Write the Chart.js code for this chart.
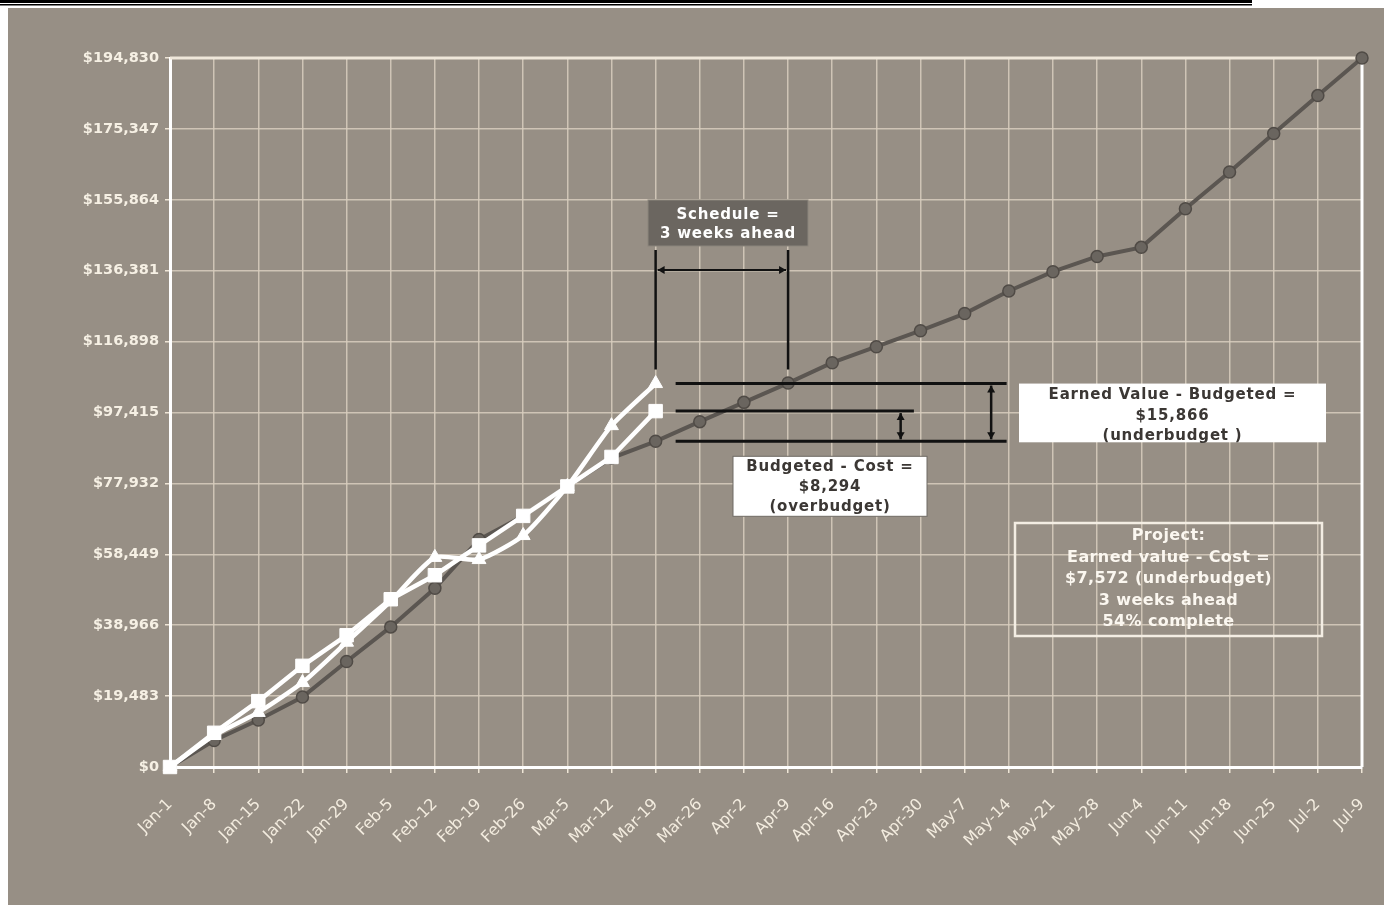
<!DOCTYPE html>
<html>
<head>
<meta charset="utf-8">
<title>Earned value</title>
<script src="https://cdn.jsdelivr.net/npm/chart.js@4.4.0/dist/chart.umd.min.js"></script>
<style>
  html, body { margin: 0; padding: 0; background: #fff; }
  #wrap { position: relative; width: 1390px; height: 907px; }
</style>
</head>
<body>
<div id="wrap"><canvas id="ev" width="1390" height="907"></canvas></div>
<script>
// weekly status dates
const weeks = ['Jan-1', 'Jan-8', 'Jan-15', 'Jan-22', 'Jan-29', 'Feb-5', 'Feb-12', 'Feb-19', 'Feb-26',
  'Mar-5', 'Mar-12', 'Mar-19', 'Mar-26', 'Apr-2', 'Apr-9', 'Apr-16', 'Apr-23', 'Apr-30', 'May-7',
  'May-14', 'May-21', 'May-28', 'Jun-4', 'Jun-11', 'Jun-18', 'Jun-25', 'Jul-2', 'Jul-9'];

// cumulative planned spend (budget) for the whole project
const budgeted = [0, 7300, 12900, 19250, 29000, 38500, 49100, 62500, 69000, 77100, 84900, 89500,
  94900, 100200, 105500, 111100, 115500, 119900, 124600, 130800, 136100, 140300, 142800, 153400,
  163500, 174100, 184500, 194830];

// progress so far (up to Mar-19)
const earned = [0, 8700, 15000, 23200, 34300, 45600, 57600, 57000, 63600, 77100, 93800, 105366];
const cost = [0, 9400, 18100, 27800, 36200, 46100, 52700, 60900, 69000, 77100, 85200, 97794];

const yTicks = [0, 19483, 38966, 58449, 77932, 97415, 116898, 136381, 155864, 175347, 194830];

const now = earned.length - 1;          // status date index
const scheduleMatch = 14;               // week where plan reaches today's earned value

const money = v => '$' + Math.round(v).toLocaleString('en-US');
const font = (size, bold) => (bold ? 'bold ' : '') + size + 'px "DejaVu Sans", Verdana, sans-serif';

const backdrop = {
  id: 'backdrop',
  beforeDraw(chart) {
    const ctx = chart.ctx;
    ctx.save();
    ctx.fillStyle = '#fff';
    ctx.fillRect(0, 0, chart.width, chart.height);
    ctx.fillStyle = '#000';
    ctx.fillRect(0, 0, 1252, 3);
    ctx.fillRect(0, 4, 1252, 1.5);
    ctx.fillStyle = '#978f85';
    ctx.fillRect(8, 8, 1376, 897);
    ctx.restore();
  },
  beforeDatasetsDraw(chart) {
    const { ctx, chartArea: a } = chart;
    ctx.save();
    ctx.lineWidth = 3;
    ctx.strokeStyle = '#efe7da';
    ctx.beginPath();
    ctx.moveTo(a.left, a.top);
    ctx.lineTo(a.right, a.top);
    ctx.stroke();
    ctx.strokeStyle = '#fff';
    ctx.beginPath();
    ctx.moveTo(a.right, a.top);
    ctx.lineTo(a.right, a.bottom);
    ctx.stroke();
    ctx.restore();
  }
};

function arrowHead(ctx, x, y, dx, dy) {
  const s = 7, w = 4;
  ctx.beginPath();
  ctx.moveTo(x, y);
  ctx.lineTo(x - dx * s - dy * w, y - dy * s - dx * w);
  ctx.lineTo(x - dx * s + dy * w, y - dy * s + dx * w);
  ctx.closePath();
  ctx.fill();
}

function doubleArrow(ctx, x1, y1, x2, y2) {
  const len = Math.hypot(x2 - x1, y2 - y1);
  const dx = (x2 - x1) / len, dy = (y2 - y1) / len;
  ctx.beginPath();
  ctx.moveTo(x1, y1);
  ctx.lineTo(x2, y2);
  ctx.stroke();
  arrowHead(ctx, x2, y2, dx, dy);
  arrowHead(ctx, x1, y1, -dx, -dy);
}

function textBox(ctx, box, lines, opts) {
  ctx.save();
  if (opts.fill) {
    ctx.fillStyle = opts.fill;
    ctx.fillRect(box.x, box.y, box.w, box.h);
  }
  if (opts.stroke) {
    ctx.strokeStyle = opts.stroke;
    ctx.lineWidth = opts.strokeWidth || 1;
    ctx.strokeRect(box.x, box.y, box.w, box.h);
  }
  ctx.fillStyle = opts.color;
  ctx.font = opts.font;
  ctx.letterSpacing = opts.spacing || '0px';
  ctx.textAlign = 'center';
  ctx.textBaseline = 'middle';
  lines.forEach((t, i) => ctx.fillText(t, box.x + box.w / 2, box.y + opts.first + i * opts.lead));
  ctx.restore();
}

const notes = {
  id: 'notes',
  afterDatasetsDraw(chart) {
    const { ctx, scales: { x, y } } = chart;
    const step = (x.right - x.left) / (weeks.length - 1);
    const xAt = i => x.left + i * step;
    const yEV = y.getPixelForValue(earned[now]);
    const yAC = y.getPixelForValue(cost[now]);
    const yPV = y.getPixelForValue(budgeted[now]);
    const xNow = xAt(now), xMatch = xAt(scheduleMatch);

    ctx.save();
    ctx.strokeStyle = '#111';
    ctx.fillStyle = '#111';
    ctx.lineWidth = 2.5;

    // schedule bracket
    const boxBottom = 246;
    ctx.beginPath();
    ctx.moveTo(xNow, boxBottom + 4); ctx.lineTo(xNow, yEV - 14);
    ctx.moveTo(xMatch, boxBottom + 4); ctx.lineTo(xMatch, yEV - 14);
    ctx.stroke();
    ctx.lineWidth = 2;
    doubleArrow(ctx, xNow + 2, boxBottom + 24, xMatch - 2, boxBottom + 24);

    // value levels at the status date
    ctx.lineWidth = 3;
    const x0 = xNow + 20;
    ctx.beginPath();
    ctx.moveTo(x0, yEV); ctx.lineTo(xAt(18.95), yEV);
    ctx.moveTo(x0, yAC); ctx.lineTo(xAt(16.85), yAC);
    ctx.moveTo(x0, yPV); ctx.lineTo(xAt(18.95), yPV);
    ctx.stroke();
    ctx.lineWidth = 2.5;
    doubleArrow(ctx, xAt(16.55), yAC + 2, xAt(16.55), yPV - 2);
    doubleArrow(ctx, xAt(18.6), yEV + 2, xAt(18.6), yPV - 2);
    ctx.restore();

    textBox(ctx, { x: 648, y: 200, w: 160, h: 46 }, ['Schedule =', (scheduleMatch - now) + ' weeks ahead'],
      { fill: '#6b6660', stroke: '#8b857d', color: '#fff', font: font(15, true), spacing: '0.8px', first: 15, lead: 19 });

    textBox(ctx, { x: 1019, y: yEV, w: 307, h: yPV - yEV + 1 },
      ['Earned Value - Budgeted =', money(earned[now] - budgeted[now]), '(underbudget )'],
      { fill: '#fff', color: '#3b3734', font: font(15, true), spacing: '0.8px', first: 12, lead: 20.5 });

    textBox(ctx, { x: 733, y: yPV + 15, w: 194, h: 60 },
      ['Budgeted - Cost =', money(cost[now] - budgeted[now]), '(overbudget)'],
      { fill: '#fff', stroke: '#6f6a64', color: '#3b3734', font: font(15, true), spacing: '0.8px', first: 11, lead: 20 });

    textBox(ctx, { x: 1015, y: 523, w: 307, h: 113 },
      ['Project:', 'Earned value - Cost =', money(earned[now] - cost[now]) + ' (underbudget)',
        (scheduleMatch - now) + ' weeks ahead', Math.round(earned[now] / budgeted[budgeted.length - 1] * 100) + '% complete'],
      { stroke: '#f3ede3', strokeWidth: 2.5, color: '#fbf7f0', font: font(16, true), spacing: '0.4px', first: 13, lead: 21.5 });
  }
};

const gridColor = 'rgba(216,206,190,0.85)';

new Chart(document.getElementById('ev'), {
  type: 'line',
  data: {
    labels: weeks,
    datasets: [
      {
        label: 'Earned value',
        data: earned,
        borderColor: '#fff',
        backgroundColor: '#fff',
        borderWidth: 4.5,
        pointStyle: 'triangle',
        pointRadius: 8,
        pointBorderWidth: 1,
        tension: 0.2,
        clip: false
      },
      {
        label: 'Actual cost',
        data: cost,
        borderColor: '#fff',
        backgroundColor: '#fff',
        borderWidth: 4.5,
        pointStyle: 'rect',
        pointRadius: 9.5,
        pointBorderWidth: 1,
        tension: 0,
        clip: false
      },
      {
        label: 'Budgeted',
        data: budgeted,
        borderColor: '#5b5651',
        backgroundColor: '#6a655f',
        pointBorderColor: '#504b46',
        borderWidth: 4,
        pointRadius: 6,
        pointBorderWidth: 1.5,
        tension: 0,
        clip: false
      }
    ]
  },
  options: {
    responsive: false,
    animation: false,
    layout: { padding: { left: 0, top: 58, right: 28, bottom: 0 } },
    plugins: { legend: { display: false }, tooltip: { enabled: false } },
    scales: {
      x: {
        afterFit: s => { s.height = 140; s.paddingLeft = 0; s.paddingRight = 0; },
        grid: { color: gridColor, lineWidth: 1.5, tickColor: '#eee5d6', tickLength: 6 },
        border: { color: '#fff', width: 3 },
        ticks: {
          autoSkip: false, maxRotation: 45, minRotation: 45, padding: 22,
          color: '#f3ecdf', font: { family: '"DejaVu Sans", Verdana, sans-serif', size: 16 }
        }
      },
      y: {
        min: 0,
        max: yTicks[yTicks.length - 1],
        afterFit: s => { s.width = 170; },
        afterBuildTicks: s => { s.ticks = yTicks.map(v => ({ value: v })); },
        grid: { color: gridColor, lineWidth: 1.5, tickColor: '#eee5d6', tickLength: 5 },
        border: { color: '#fff', width: 3 },
        ticks: {
          padding: 6,
          color: '#f6f0e4',
          font: { family: '"DejaVu Sans", Verdana, sans-serif', size: 14.5, weight: 'bold' },
          callback: v => money(v)
        }
      }
    }
  },
  plugins: [backdrop, notes]
});
</script>
</body>
</html>
